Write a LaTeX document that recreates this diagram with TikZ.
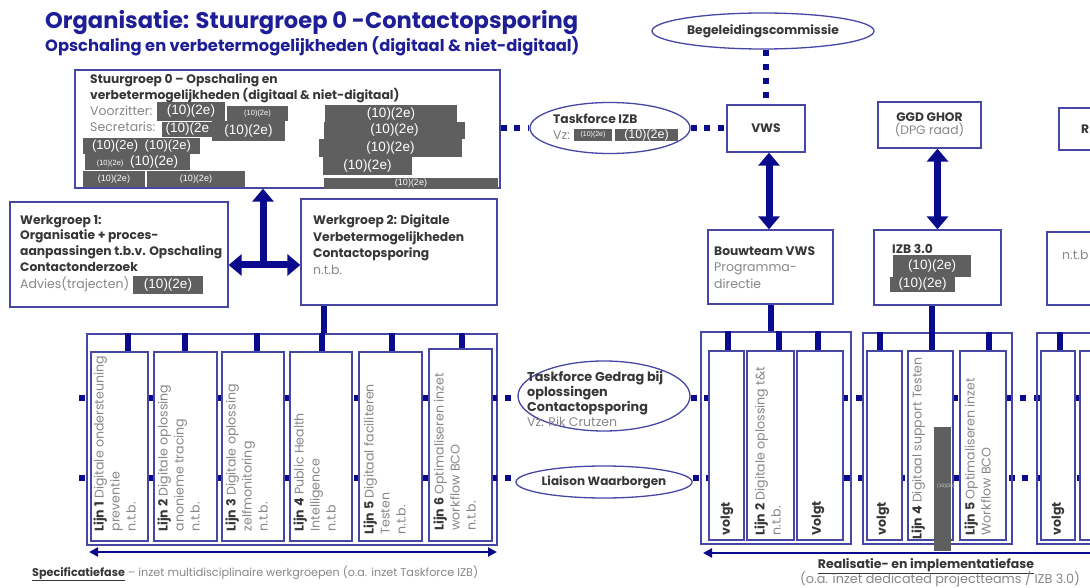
\documentclass[tikz,border=0pt]{standalone}
\usepackage{fontspec}
\setmainfont{Poppins}
\newfontfamily\redfont{Liberation Sans}
\usetikzlibrary{shapes.geometric,arrows.meta,calc}
\definecolor{navy}{RGB}{10,10,140}
\definecolor{boxblue}{RGB}{70,70,165}
\definecolor{titleblue}{RGB}{30,30,150}
\definecolor{txtgray}{RGB}{135,135,135}
\definecolor{txtdark}{RGB}{55,55,55}
\definecolor{redact}{RGB}{95,95,95}
\tikzset{
  bx/.style={draw=boxblue, line width=1.3pt, fill=white, inner sep=0pt},
  ell/.style={draw=boxblue, line width=1.3pt, fill=white, ellipse, inner sep=0pt},
  rdx/.style={fill=redact, text=white, inner sep=0pt},
  bt/.style={inner sep=0pt, anchor=base west, text=txtdark, font=\bfseries\fontsize{12.3}{12}\selectfont},
  gt/.style={inner sep=0pt, anchor=base west, text=txtgray, font=\fontsize{12.5}{12}\selectfont},
  lanetxt/.style={inner sep=0pt, rotate=90, anchor=north west, align=left, text=txtgray, font=\fontsize{12.6}{16}\selectfont},
  volgt/.style={inner sep=0pt, rotate=90, anchor=north west, text=txtdark, font=\bfseries\fontsize{12.5}{12}\selectfont},
  conn/.style={draw=navy, line width=6pt},
  bigarrow/.style={draw=navy, line width=7pt, {Triangle[length=13pt,width=21pt]}-{Triangle[length=13pt,width=21pt]}},
  uparrow/.style={draw=navy, line width=7pt, -{Triangle[length=13pt,width=21pt]}},
  dots/.style={draw=navy, line width=6pt, dash pattern=on 6pt off 7.74pt},
  vdots/.style={draw=navy, line width=6pt, dash pattern=on 6pt off 8pt},
  phase/.style={draw=navy, line width=2.6pt},
}
\newcommand\bxn[5]{\node[bx, minimum width={#4-#2}, minimum height={#5-#3}] (#1) at ({(#2+#4)/2},{(#3+#5)/2}) {};}
\newcommand\rdn[7]{\node[rdx, minimum width={#4-#2}, minimum height={#5-#3}, font=\redfont\fontsize{#6}{#6}\selectfont] (#1) at ({(#2+#4)/2},{(#3+#5)/2}) {#7};}
\begin{document}
\begin{tikzpicture}[x=1pt,y=-1pt]
\useasboundingbox (0,0) rectangle (1090,588);
\clip (0,0) rectangle (1090,588);
\fill[white] (0,0) rectangle (1090,588);

% title
\node[inner sep=0pt, anchor=base west, text=titleblue, font=\bfseries\fontsize{22.6}{22}\selectfont] (title) at (45,29) {Organisatie: Stuurgroep 0 -Contactopsporing};
\node[inner sep=0pt, anchor=base west, text=titleblue, font=\bfseries\fontsize{16.3}{16}\selectfont] (subtitle) at (45,52) {Opschaling en verbetermogelijkheden (digitaal \& niet-digitaal)};

% Stuurgroep box
\bxn{sg}{75}{70}{500}{188}
\node[bt] (sg1) at (90,84) {Stuurgroep 0 – Opschaling en};
\node[bt] (sg2) at (90,100) {verbetermogelijkheden (digitaal \& niet-digitaal)};
\node[gt] (sg3) at (90,116) {Voorzitter:};
\node[gt] (sg4) at (90,132) {Secretaris:};
\rdn{r1}{157}{102}{225}{121}{13.5}{(10)(2e)}
\rdn{r2}{227}{106}{288}{121}{7.5}{(10)(2e)}
\rdn{r3}{325}{105}{457}{123}{13.5}{(10)(2e)}
\rdn{r4}{162}{122}{213}{137}{13.5}{(10)(2e}
\rdn{r5}{212}{121}{285}{141}{13.5}{(10)(2e)}
\rdn{r6}{324}{122}{465}{139}{13.5}{(10)(2e)}
\rdn{r7}{83}{138}{200}{154}{13}{(10)(2e)\enspace(10)(2e)}
\rdn{r8}{319}{139}{462}{157}{13.5}{(10)(2e)}
\rdn{r9}{85}{154}{190}{170}{13.5}{{\fontsize{7.5}{7.5}\selectfont(10)(2e)}\enspace(10)(2e)}
\rdn{r10}{323}{157}{412}{175}{13.5}{(10)(2e)}
\rdn{r11}{83}{171}{145}{187}{9}{(10)(2e)}
\rdn{r12}{147}{171}{245}{187}{9}{(10)(2e)}
\rdn{r13}{324}{178}{498}{189}{9}{(10)(2e)}

% Werkgroep 1 and 2
\bxn{wg1}{10}{202}{228}{307}
\node[bt] (w11) at (20,225) {Werkgroep 1:};
\node[bt] (w12) at (20,240) {Organisatie + proces-};
\node[bt] (w13) at (20,256) {aanpassingen t.b.v. Opschaling};
\node[bt] (w14) at (20,272) {Contactonderzoek};
\node[gt] (w15) at (20,288) {Advies(trajecten)};
\rdn{r14}{133}{276}{203}{294}{13.5}{(10)(2e)}
\bxn{wg2}{301}{199}{497}{305}
\node[bt] (w21) at (313,225) {Werkgroep 2: Digitale};
\node[bt] (w22) at (313,242) {Verbetermogelijkheden};
\node[bt] (w23) at (313,258) {Contactopsporing};
\node[gt] (w24) at (313,274) {n.t.b.};
\coordinate (jn) at (263,265);
\draw[uparrow] (jn) -- (sg.south -| jn);
\draw[bigarrow] (wg1.east |- jn) -- (wg2.west |- jn);

% Taskforce IZB
\node[ell, minimum width=160pt, minimum height=51pt] (tfi) at (610,128) {};
\node[bt] (tfi1) at (553,124) {Taskforce IZB};
\node[gt] (tfi2) at (553,140) {Vz:};
\rdn{r15}{574}{129}{612}{141}{7}{(10)(2e)}
\rdn{r16}{615}{129}{678}{141}{12.5}{(10)(2e)}

% Begeleidingscommissie, VWS, etc.
\node[ell, minimum width=222pt, minimum height=36pt, text=txtdark, font=\bfseries\fontsize{12.3}{12}\selectfont] (bc) at (763,31) {Begeleidingscommissie};
\bxn{vws}{727}{105}{805}{152}
\node[text=txtdark, font=\bfseries\fontsize{12.3}{12}\selectfont] (vwst) at (vws) {VWS};
\bxn{ggd}{878}{102}{981}{148}
\node[align=center, text=txtdark, font=\bfseries\fontsize{12.3}{14}\selectfont] (ggdt) at (ggd) {GGD GHOR\\[-1pt]{\mdseries\color{txtgray}(DPG raad)}};
\bxn{rbox}{1059}{108}{1110}{150}
\node[bt] (rt) at (1081,134) {R};
\bxn{bw}{708}{230}{833}{304}
\node[bt] (bw1) at (714,256) {Bouwteam VWS};
\node[gt] (bw2) at (714,272) {Programma-};
\node[gt] (bw3) at (714,288) {directie};
\bxn{izb}{874}{230}{1001}{305}
\node[bt] (izb1) at (892,254) {IZB 3.0};
\rdn{r17}{893}{255}{971}{277}{13.5}{(10)(2e)}
\rdn{r18}{890}{277}{955}{292}{13.5}{(10)(2e)}
\bxn{ntb}{1047}{232}{1110}{305}
\node[gt] (ntbt) at (1062,259) {n.t.b};

\draw[dots] (sg.east |- tfi) -- (tfi.west);
\draw[dots] (tfi.east) -- (vws.west |- tfi);
\draw[vdots] (bc.south -| vws) -- (vws.north);
\draw[bigarrow] ([xshift=3pt]vws.south) -- ([xshift=3pt]vws.south |- bw.north);
\draw[bigarrow] ([xshift=8pt]ggd.south) -- ([xshift=8pt]ggd.south |- izb.north);

% left lanes
\node[draw=boxblue, line width=1.3pt, minimum width=410pt, minimum height=211pt, inner sep=0pt] (lc) at (292,439.5) {};
\draw[conn] ([xshift=-75.5pt]wg2.south) -- ([xshift=-75.5pt]wg2.south |- lc.north);
% dotted lines behind the middle ellipses
\coordinate (dl1) at (79,398);
\coordinate (dl2) at (79,478);
\coordinate (dr1) at (1095,398);
\coordinate (dr2) at (1095,478);
\node[ell, minimum width=172pt, minimum height=70pt] (tfg) at (604,396) {};
\node[ell, minimum width=172pt, minimum height=32pt, text=txtdark, font=\bfseries\fontsize{12}{12}\selectfont] (lw) at (604,482) {Liaison Waarborgen};
\draw[dots] (dl1) -- (tfg.west |- dl1);
\draw[dots] (dl2) -- (lw.west |- dl2);
\draw[dots] (tfg.east |- dr1) -- (dr1);
\draw[dots] (lw.east |- dr2) -- (dr2);
\node[bt, font=\bfseries\fontsize{12.8}{12}\selectfont] (tfg1) at (527,381) {Taskforce Gedrag bij};
\node[bt, font=\bfseries\fontsize{12.8}{12}\selectfont] (tfg3) at (527,396) {oplossingen};
\node[bt, font=\bfseries\fontsize{12.8}{12}\selectfont] (tfg4) at (527,411) {Contactopsporing};
\node[gt] (tfg5) at (527,426) {Vz: Rik Crutzen};

\bxn{l1}{91}{352}{148}{541}
\bxn{l2}{154}{352}{217}{541}
\bxn{l3}{222}{352}{284}{541}
\bxn{l4}{290}{352}{352}{541}
\bxn{l5}{359}{352}{422}{541}
\bxn{l6}{429}{349}{492}{541}
\foreach \n/\s in {l1/8,l2/-0.5,l3/4,l4/1,l5/1.5,l6/1.5}{
  \draw[conn] ([xshift=\s pt]\n.north) -- ([xshift=\s pt]\n.north |- lc.north);
}
\node[lanetxt] (t1) at ([xshift=3pt,yshift=10pt]l1.south west) {{\bfseries\color{txtdark}Lijn 1} Digitale ondersteuning\\preventie\\n.t.b.};
\node[lanetxt] (t2) at ([xshift=4pt,yshift=10pt]l2.south west) {{\bfseries\color{txtdark}Lijn 2} Digitale oplossing\\anonieme tracing\\n.t.b.};
\node[lanetxt] (t3) at ([xshift=4pt,yshift=10pt]l3.south west) {{\bfseries\color{txtdark}Lijn 3} Digitale oplossing\\zelfmonitoring\\n.t.b.};
\node[lanetxt] (t4) at ([xshift=4pt,yshift=10pt]l4.south west) {{\bfseries\color{txtdark}Lijn 4} Public Health\\Intelligence\\n.t.b};
\node[lanetxt] (t5) at ([xshift=5pt,yshift=7pt]l5.south west) {{\bfseries\color{txtdark}Lijn 5} Digitaal faciliteren\\Testen\\n.t.b.};
\node[lanetxt] (t6) at ([xshift=5pt,yshift=11pt]l6.south west) {{\bfseries\color{txtdark}Lijn 6} Optimaliseren inzet\\workflow BCO\\n.t.b.};

\coordinate (pa) at (89,552);
\coordinate (pb) at (497,552);
\draw[phase, {Triangle[length=9pt,width=9pt]}-{Triangle[length=9pt,width=9pt]}] (pa) -- (pb);
\node[inner sep=0pt, anchor=base west, text=txtgray, font=\fontsize{11.2}{11}\selectfont] (cap1) at (32,576) {{\bfseries\color{txtdark}\underline{Specificatiefase}} – inzet multidisciplinaire werkgroepen (o.a. inzet Taskforce IZB)};

% group A
\node[draw=boxblue, line width=1.3pt, minimum width=150pt, minimum height=212pt, inner sep=0pt] (ga) at (776,438) {};
\draw[conn] (bw.south) -- (bw.south |- ga.north);
\bxn{a1}{709}{351}{744}{540}
\bxn{a2}{747}{351}{794}{540}
\bxn{a3}{797}{351}{843}{540}
\foreach \n/\s in {a1/1.5,a2/8.5,a3/-2}{
  \draw[conn] ([xshift=\s pt]\n.north) -- ([xshift=\s pt]\n.north |- ga.north);
}
\node[volgt] (ta1) at ([xshift=12pt,yshift=5pt]a1.south west) {volgt};
\node[lanetxt] (ta2) at ([xshift=8pt,yshift=5pt]a2.south west) {{\bfseries\color{txtdark}Lijn 2} Digitale oplossing t\&t\\n.t.b.};
\node[volgt] (ta3) at ([xshift=15pt,yshift=5pt]a3.south west) {Volgt};

% group B
\node[draw=boxblue, line width=1.3pt, minimum width=149pt, minimum height=211pt, inner sep=0pt] (gb) at (937.5,438.5) {};
\bxn{b1}{867}{351}{902}{540}
\bxn{b2}{908}{351}{953}{540}
\bxn{b3}{960}{351}{1006}{540}
\draw[conn] ([xshift=-5pt]b1.north) -- ([xshift=-5pt]b1.north |- gb.north);
\draw[conn] ([xshift=-5.5pt]izb.south) -- ([xshift=-5.5pt]izb.south |- b2.north);
\draw[conn] ([xshift=6pt]b3.north) -- ([xshift=6pt]b3.north |- gb.north);
\node[volgt] (tb1) at ([xshift=10pt,yshift=5pt]b1.south west) {volgt};
\node[lanetxt] (tb2) at ([xshift=4pt,yshift=1pt]b2.south west) {{\bfseries\color{txtdark}Lijn 4} Digitaal support Testen};
\rdn{r19}{934}{427}{951}{551}{5}{}
\node[inner sep=0pt, text=white!80!black, font=\redfont\fontsize{5}{5}\selectfont] (r19t) at (946,486) {(10)(2e)};
\node[lanetxt] (tb3) at ([xshift=5pt,yshift=5pt]b3.south west) {{\bfseries\color{txtdark}Lijn 5} Optimaliseren inzet\\Workflow BCO};

% group C
\node[draw=boxblue, line width=1.3pt, minimum width=80pt, minimum height=211pt, inner sep=0pt] (gc) at (1077,438.5) {};
\bxn{c1}{1041}{351}{1075}{540}
\bxn{c2}{1080}{351}{1120}{540}
\draw[conn] ([xshift=2pt]c1.north) -- ([xshift=2pt]c1.north |- gc.north);
\node[volgt] (tc1) at ([xshift=11pt,yshift=5pt]c1.south west) {volgt};

\coordinate (ra) at (1100,553);
\coordinate (rb) at (703,553);
\draw[phase, -{Triangle[length=9pt,width=9pt]}] (ra) -- (rb);
\node[inner sep=0pt, anchor=base, text=txtdark, font=\bfseries\fontsize{12.5}{12}\selectfont] (cap2) at (926,568) {\underline{Realisatie- en implementatiefase}};
\node[inner sep=0pt, anchor=base, text=txtgray, font=\fontsize{12.8}{12}\selectfont] (cap3) at (940,583) {(o.a. inzet dedicated projectteams / IZB 3.0)};
\end{tikzpicture}
\end{document}
